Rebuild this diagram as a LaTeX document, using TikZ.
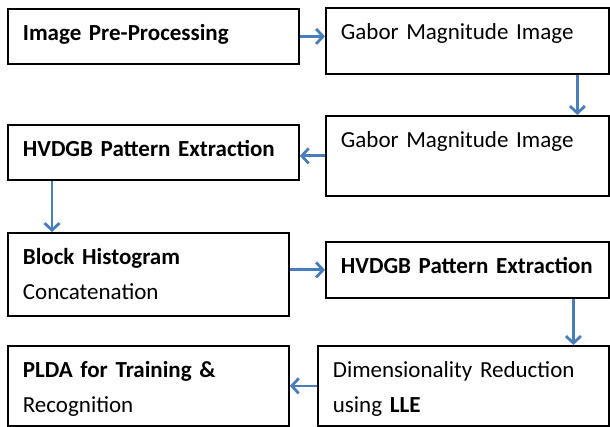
\documentclass[tikz,border=0pt]{standalone}
\usepackage{fontspec}
\setmainfont{Carlito}
\usepackage{tikz}
\usetikzlibrary{positioning,arrows.meta}
\definecolor{flowblue}{HTML}{4A7EBB}
\tikzset{
  flowarrow/.style={-{Straight Barb[length=3.5pt,width=7.5pt]}, line width=1.4pt, draw=flowblue},
  stagebox/.style={draw, line width=0.9pt, anchor=north west, align=left, inner xsep=7.5pt, inner ysep=0pt, text height=16pt}
}

\begin{document}
\begin{tikzpicture}[x=0.5pt, y=-0.5pt, every node/.style={font=\fontsize{11.5}{17.5}\selectfont}]
  \useasboundingbox (0,0) rectangle (610,427);
  \node[stagebox, text width=130.5pt, text depth=11.5pt] (pre) at (7,8) {\textbf{Image Pre-Processing}};
  \node[stagebox, text width=126.5pt, text depth=17pt] (gab1) at (325,7) {Gabor Magnitude Image};
  \node[stagebox, text width=126.5pt, text depth=24pt] (gab2) at (325,115) {Gabor Magnitude Image};
  \node[stagebox, text width=130.5pt, text depth=11.5pt] (hvl) at (7,124) {\textbf{HVDGB Pattern Extraction}};
  \node[stagebox, text width=125.5pt, text depth=25.5pt] (blk) at (7,232) {\textbf{Block Histogram}\\ Concatenation};
  \node[stagebox, text width=126.5pt, text depth=12pt] (hvr) at (325,241) {\textbf{HVDGB Pattern Extraction}};
  \node[stagebox, text width=125.5pt, text depth=24pt] (plda) at (7,345) {\textbf{PLDA for Training \&}\\ Recognition};
  \node[stagebox, text width=130.5pt, text depth=24pt] (dim) at (317,345) {Dimensionality Reduction\\ using \textbf{LLE}};
  \draw[flowarrow] (pre.east) -- (pre.east -| gab1.west);
  \draw[flowarrow] ([xshift=55pt]gab1.south) -- ([xshift=55pt]gab1.south |- gab2.north);
  \draw[flowarrow] (gab2.west) -- (gab2.west -| hvl.east);
  \draw[flowarrow] ([xshift=22.5pt]hvl.south west) -- ([xshift=22.5pt]hvl.south west |- blk.north);
  \draw[flowarrow] (hvr.west -| blk.east) -- (hvr.west);
  \draw[flowarrow] ([xshift=53pt]hvr.south) -- ([xshift=53pt]hvr.south |- dim.north);
  \draw[flowarrow] (dim.west) -- (plda.east);
\end{tikzpicture}
\end{document}
